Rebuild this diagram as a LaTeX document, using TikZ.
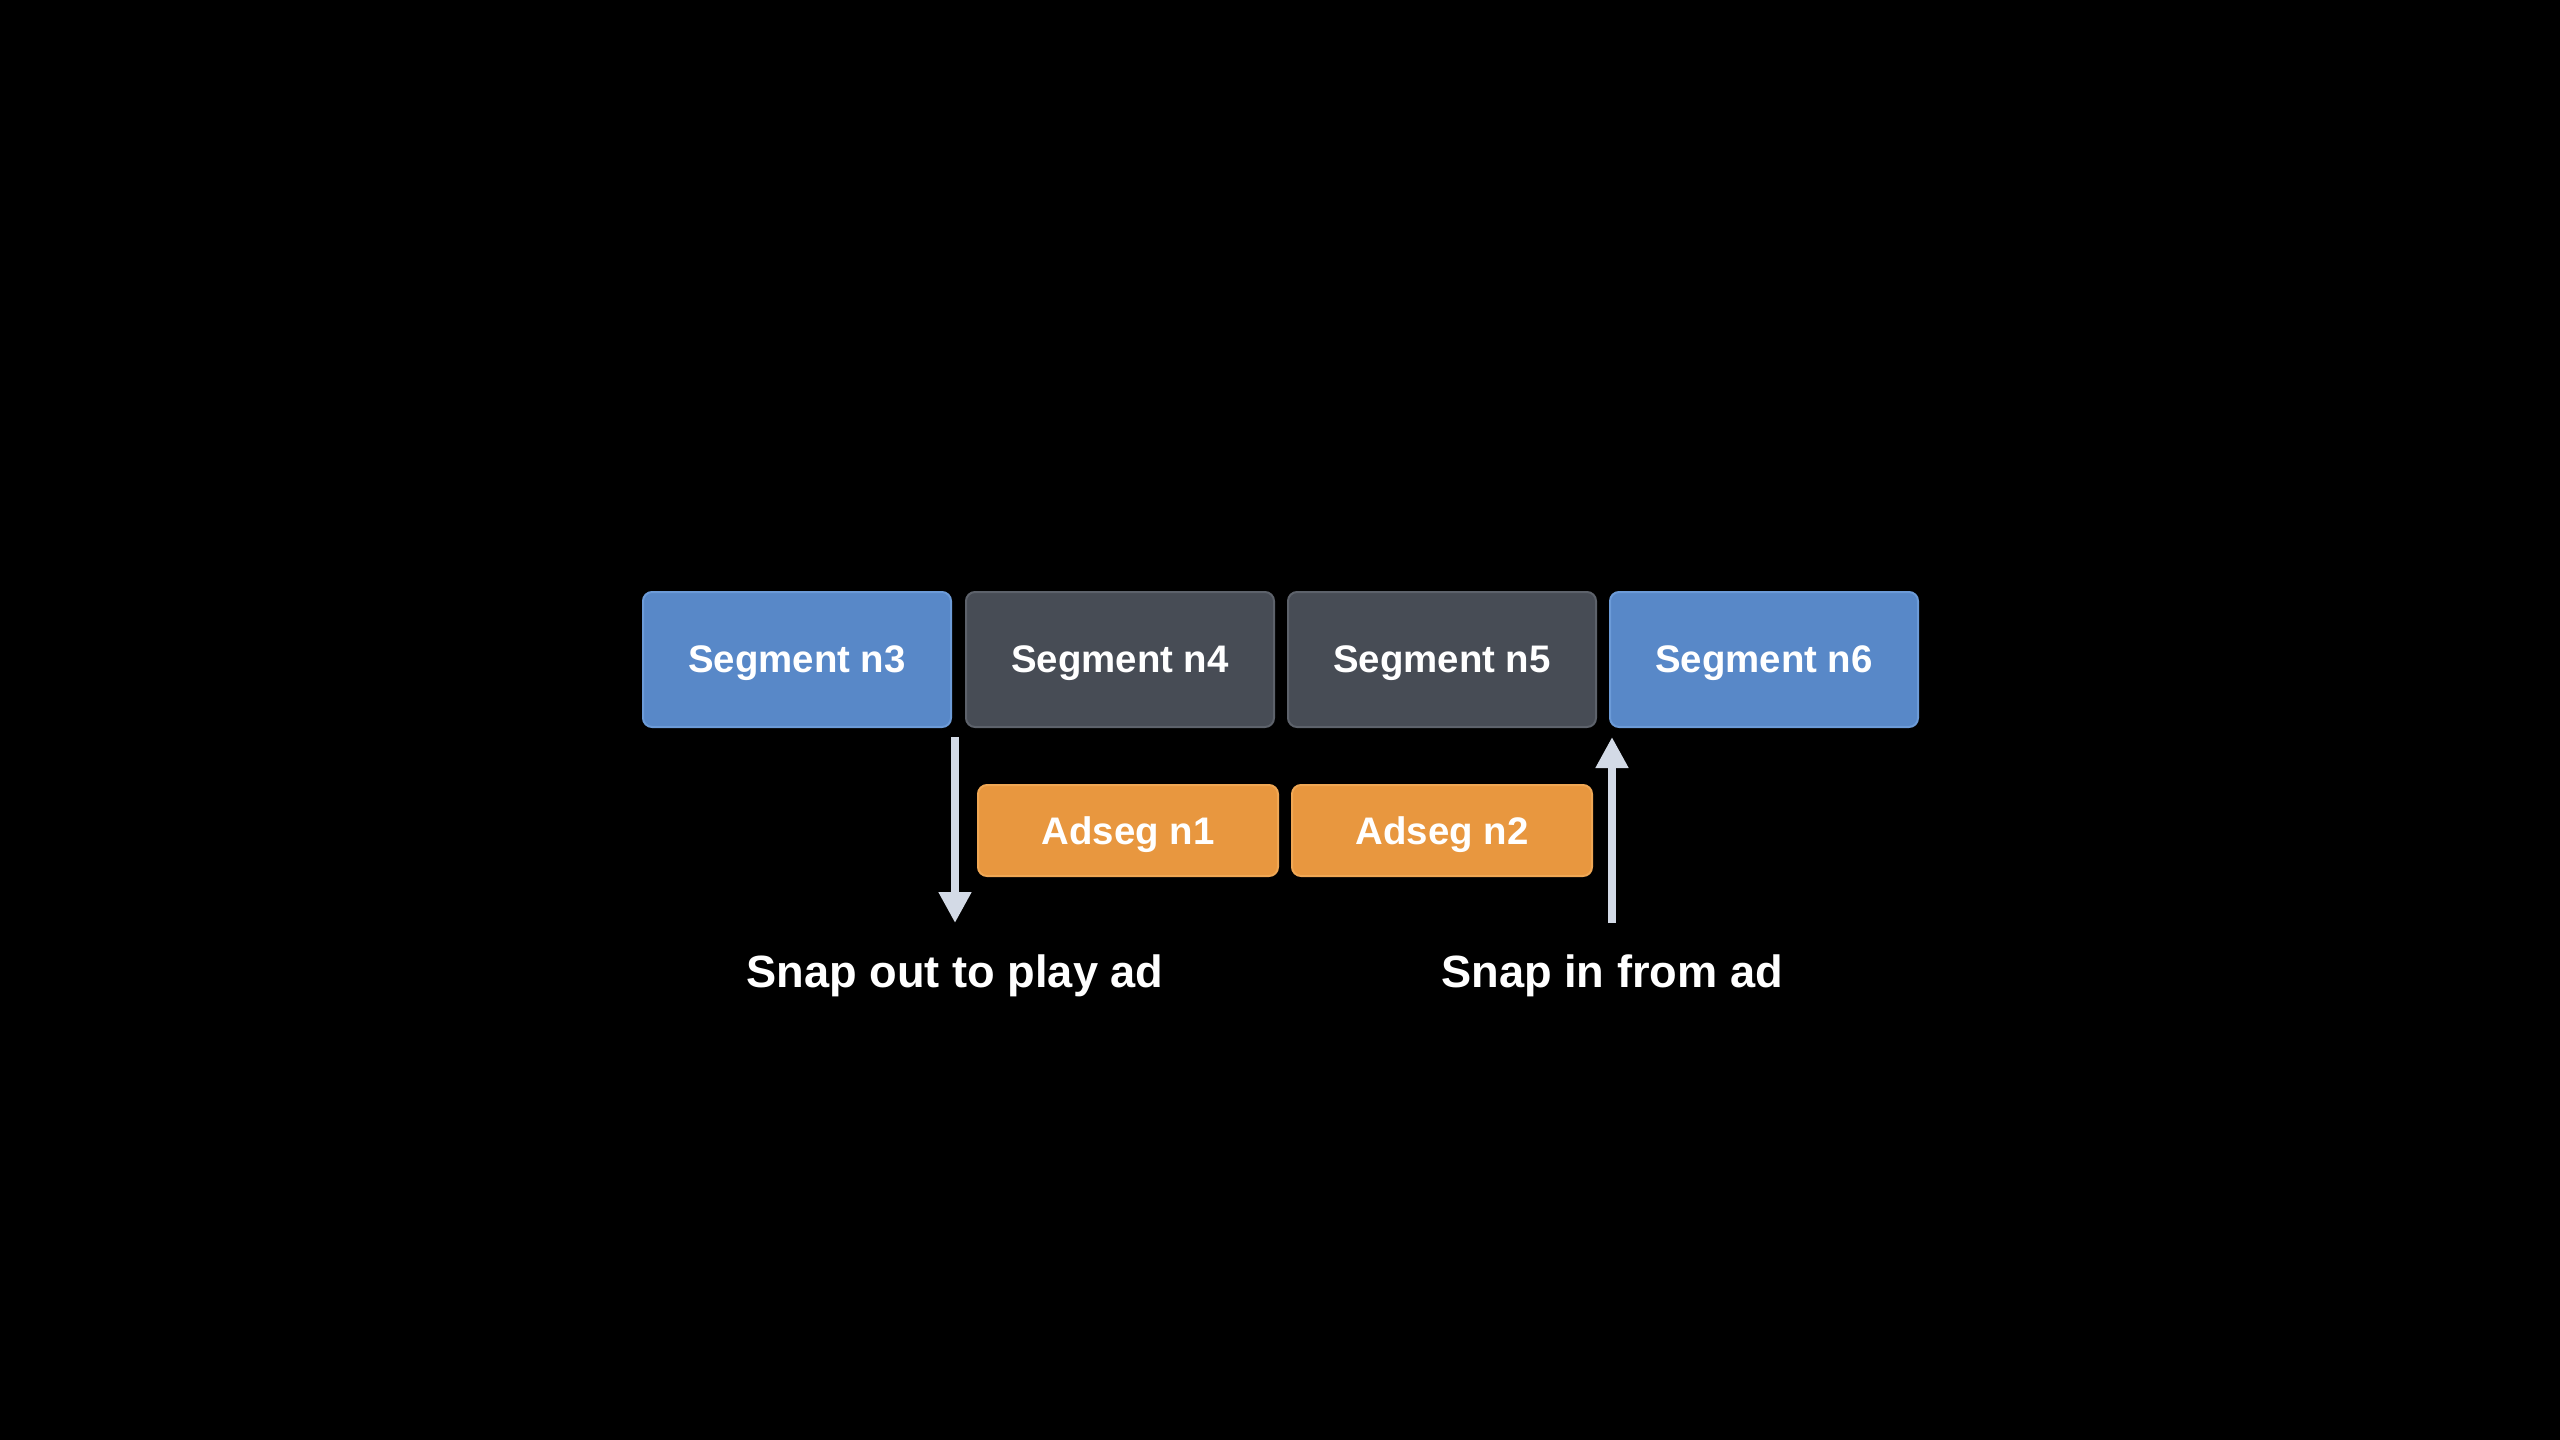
\documentclass[tikz,border=0pt]{standalone}
\usepackage{fontspec}
\setmainfont{Liberation Sans}
\usetikzlibrary{arrows.meta}
\definecolor{segblue}{HTML}{5888C8}
\definecolor{segblueb}{HTML}{6C9BD8}
\definecolor{seggray}{HTML}{474C55}
\definecolor{seggrayb}{HTML}{5D626B}
\definecolor{adorange}{HTML}{E8973F}
\definecolor{adorangeb}{HTML}{F0A754}
\definecolor{arrowc}{HTML}{D3DAE6}
\tikzset{
  segbox/.style={anchor=north west, rounded corners=4.5pt, line width=1pt,
    minimum width=154pt, minimum height=67.5pt, inner sep=0pt, text=white,
    text depth=0pt, font=\fontsize{19.2pt}{22pt}\selectfont\bfseries},
  blueseg/.style={segbox, fill=segblue, draw=segblueb},
  grayseg/.style={segbox, fill=seggray, draw=seggrayb},
  adbox/.style={segbox, fill=adorange, draw=adorangeb, minimum width=150pt, minimum height=45.5pt},
  lbl/.style={anchor=base, text=white, inner sep=0pt, font=\fontsize{22.6pt}{27pt}\selectfont\bfseries},
  snap/.style={draw=arrowc, line width=4pt, -{Triangle[length=15.5pt,width=15.5pt]}, arrowc}
}
\begin{document}
\begin{tikzpicture}[x=0.5pt,y=-0.5pt]
\fill[black] (0,0) rectangle (2560,1440);
\useasboundingbox (0,0) rectangle (2560,1440);
\node[blueseg] (n3) at (642,591) {Segment n3};
\node[grayseg] (n4) at (965,591) {Segment n4};
\node[grayseg] (n5) at (1287,591) {Segment n5};
\node[blueseg] (n6) at (1609,591) {Segment n6};
\node[adbox] (a1) at (977,784) {Adseg n1};
\node[adbox] (a2) at (1291,784) {Adseg n2};
\node[lbl] (lout) at (955,987) {Snap out to play ad};
\node[lbl] (lin) at (1612,987) {Snap in from ad};
\coordinate (outtop) at (955,737);
\coordinate (outend) at (955,923);
\coordinate (inbot) at (1612,923);
\coordinate (intip) at (1612,737);
\draw[snap] (outtop) -- (outend);
\draw[snap] (inbot) -- (intip);
\end{tikzpicture}
\end{document}
